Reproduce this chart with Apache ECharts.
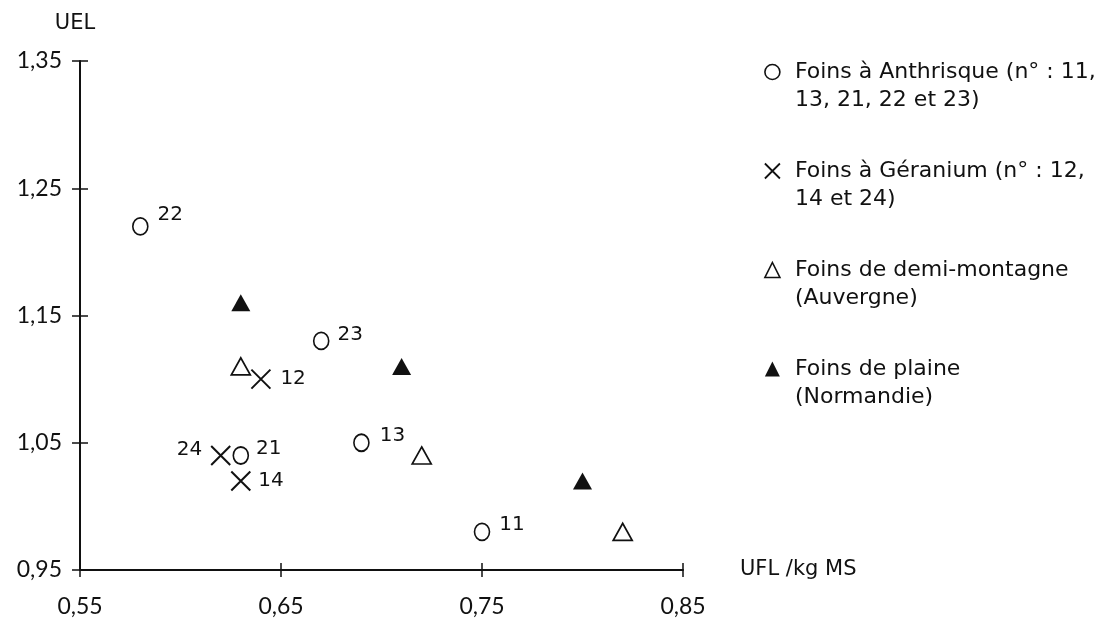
<!DOCTYPE html>
<html>
<head>
<meta charset="utf-8">
<script src="https://cdn.jsdelivr.net/npm/echarts@6/dist/echarts.min.js"></script>
<style>
html,body{margin:0;padding:0;background:#fff;}
#chart{width:1120px;height:628px;}
</style>
</head>
<body>
<div id="chart"></div>
<script>
// ---- Data ----
const seriesNames = [
  'Foins à Anthrisque (n° : 11,\n13, 21, 22 et 23)',
  'Foins à Géranium (n° : 12,\n14 et 24)',
  'Foins de demi-montagne\n(Auvergne)',
  'Foins de plaine\n(Normandie)'
];
const anthrisqueX = [0.75, 0.69, 0.63, 0.58, 0.67];
const anthrisqueY = [0.98, 1.05, 1.04, 1.22, 1.13];
const anthrisqueLabels = ['11', '13', '21', '22', '23'];
const geraniumX = [0.64, 0.63, 0.62];
const geraniumY = [1.10, 1.02, 1.04];
const geraniumLabels = ['12', '14', '24'];
const montagneX = [0.63, 0.72, 0.82];
const montagneY = [1.11, 1.04, 0.98];
const plaineX = [0.63, 0.71, 0.80];
const plaineY = [1.16, 1.11, 1.02];
const xTicks = [0.55, 0.65, 0.75, 0.85];
const yTicks = [0.95, 1.05, 1.15, 1.25, 1.35];
const xName = 'UFL /kg MS';
const yName = 'UEL';

// ---- Styles (label placement per point) ----
const labelPlacement = {
  '11': {position: 'right', distance: 9, offset: [0, -7]},
  '13': {position: 'right', distance: 10, offset: [0, -7]},
  '21': {position: 'right', distance: 7, offset: [0, -7]},
  '22': {position: 'right', distance: 9, offset: [0, -12]},
  '23': {position: 'right', distance: 8, offset: [0, -6]},
  '12': {position: 'right', distance: 9, offset: [0, 0]},
  '14': {position: 'right', distance: 7, offset: [0, 0]},
  '24': {position: 'left', distance: 8, offset: [0, -6]}
};

const FONT = 'Lato, "Noto Sans", sans-serif';
const LFONT = '"DejaVu Sans", "Noto Sans", sans-serif';
const INK = '#111';

function pts(xs, ys, labels) {
  return xs.map((x, i) => {
    const item = {value: [x, ys[i]]};
    if (labels) {
      const p = labelPlacement[labels[i]];
      item.name = labels[i];
      item.label = {show: true, formatter: labels[i], position: p.position, distance: p.distance, offset: p.offset};
    }
    return item;
  });
}
const fmt = v => Number(v).toFixed(2).replace('.', ',');

const xSymbol = 'path://M0,0L20,20M20,0L0,20';

const chart = echarts.init(document.getElementById('chart'), null, {renderer: 'canvas'});
chart.setOption({
  animation: false,
  backgroundColor: '#fff',
  textStyle: {fontFamily: FONT, color: INK},
  grid: {left: 80, right: 437, top: 61, bottom: 58, containLabel: false},
  xAxis: [
    {
      type: 'value', min: 0.55, max: 0.85, interval: 0.05,
      name: xName, nameLocation: 'end', nameGap: 57,
      nameTextStyle: {fontFamily: LFONT, fontSize: 21, color: INK, verticalAlign: 'middle'},
      axisLine: {show: true, lineStyle: {color: INK, width: 2}},
      axisTick: {show: true, inside: false, length: 7, customValues: xTicks, lineStyle: {color: INK, width: 1.5}},
      axisLabel: {show: true, customValues: xTicks, formatter: fmt, margin: 25, fontFamily: FONT, fontSize: 23, color: INK},
      splitLine: {show: false}
    },
    {
      type: 'value', min: 0.55, max: 0.85, interval: 0.05, position: 'bottom',
      axisLine: {show: false},
      axisTick: {show: true, inside: true, length: 7, customValues: xTicks, lineStyle: {color: INK, width: 1.5}},
      axisLabel: {show: false},
      splitLine: {show: false}
    }
  ],
  yAxis: [
    {
      type: 'value', min: 0.95, max: 1.35, interval: 0.05,
      name: yName, nameLocation: 'end', nameGap: 27,
      nameTextStyle: {fontFamily: LFONT, fontSize: 21, color: INK, padding: [0, 10, 0, 0]},
      axisLine: {show: true, lineStyle: {color: INK, width: 2}},
      axisTick: {show: true, inside: false, length: 8, customValues: yTicks, lineStyle: {color: INK, width: 1.5}},
      axisLabel: {show: true, customValues: yTicks, formatter: fmt, margin: 18, fontFamily: FONT, fontSize: 23, color: INK},
      splitLine: {show: false}
    },
    {
      type: 'value', min: 0.95, max: 1.35, interval: 0.05, position: 'left',
      axisLine: {show: false},
      axisTick: {show: true, inside: true, length: 8, customValues: yTicks, lineStyle: {color: INK, width: 1.5}},
      axisLabel: {show: false},
      splitLine: {show: false}
    }
  ],
  legend: {
    orient: 'vertical', left: 759, top: 25, itemGap: 15,
    itemWidth: 15, itemHeight: 15, selectedMode: false,
    formatter: name => '\n' + name,
    textStyle: {fontFamily: LFONT, fontSize: 22, color: INK, lineHeight: 28, padding: [0, 0, 0, 10]},
    data: [
      {name: seriesNames[0], icon: 'circle', itemStyle: {color: '#fff', borderColor: INK, borderWidth: 1.6}},
      {name: seriesNames[1], icon: xSymbol, itemStyle: {color: 'transparent', borderColor: INK, borderWidth: 1.8}},
      {name: seriesNames[2], icon: 'triangle', itemStyle: {color: '#fff', borderColor: INK, borderWidth: 1.6}},
      {name: seriesNames[3], icon: 'triangle', itemStyle: {color: INK, borderColor: INK, borderWidth: 0}}
    ]
  },
  series: [
    {
      name: seriesNames[0], type: 'scatter', symbol: 'circle', symbolSize: [15, 17],
      itemStyle: {color: '#fff', borderColor: INK, borderWidth: 1.7, opacity: 1},
      label: {fontFamily: LFONT, fontSize: 20, color: INK},
      data: pts(anthrisqueX, anthrisqueY, anthrisqueLabels)
    },
    {
      name: seriesNames[1], type: 'scatter', symbol: xSymbol, symbolSize: 19,
      itemStyle: {color: 'transparent', borderColor: INK, borderWidth: 2, opacity: 1},
      label: {fontFamily: LFONT, fontSize: 20, color: INK},
      data: pts(geraniumX, geraniumY, geraniumLabels)
    },
    {
      name: seriesNames[2], type: 'scatter', symbol: 'triangle', symbolSize: [19, 17],
      itemStyle: {color: '#fff', borderColor: INK, borderWidth: 1.7, opacity: 1},
      data: pts(montagneX, montagneY)
    },
    {
      name: seriesNames[3], type: 'scatter', symbol: 'triangle', symbolSize: [19, 17],
      itemStyle: {color: INK, borderColor: INK, borderWidth: 0, opacity: 1},
      data: pts(plaineX, plaineY)
    }
  ]
});
</script>
</body>
</html>
